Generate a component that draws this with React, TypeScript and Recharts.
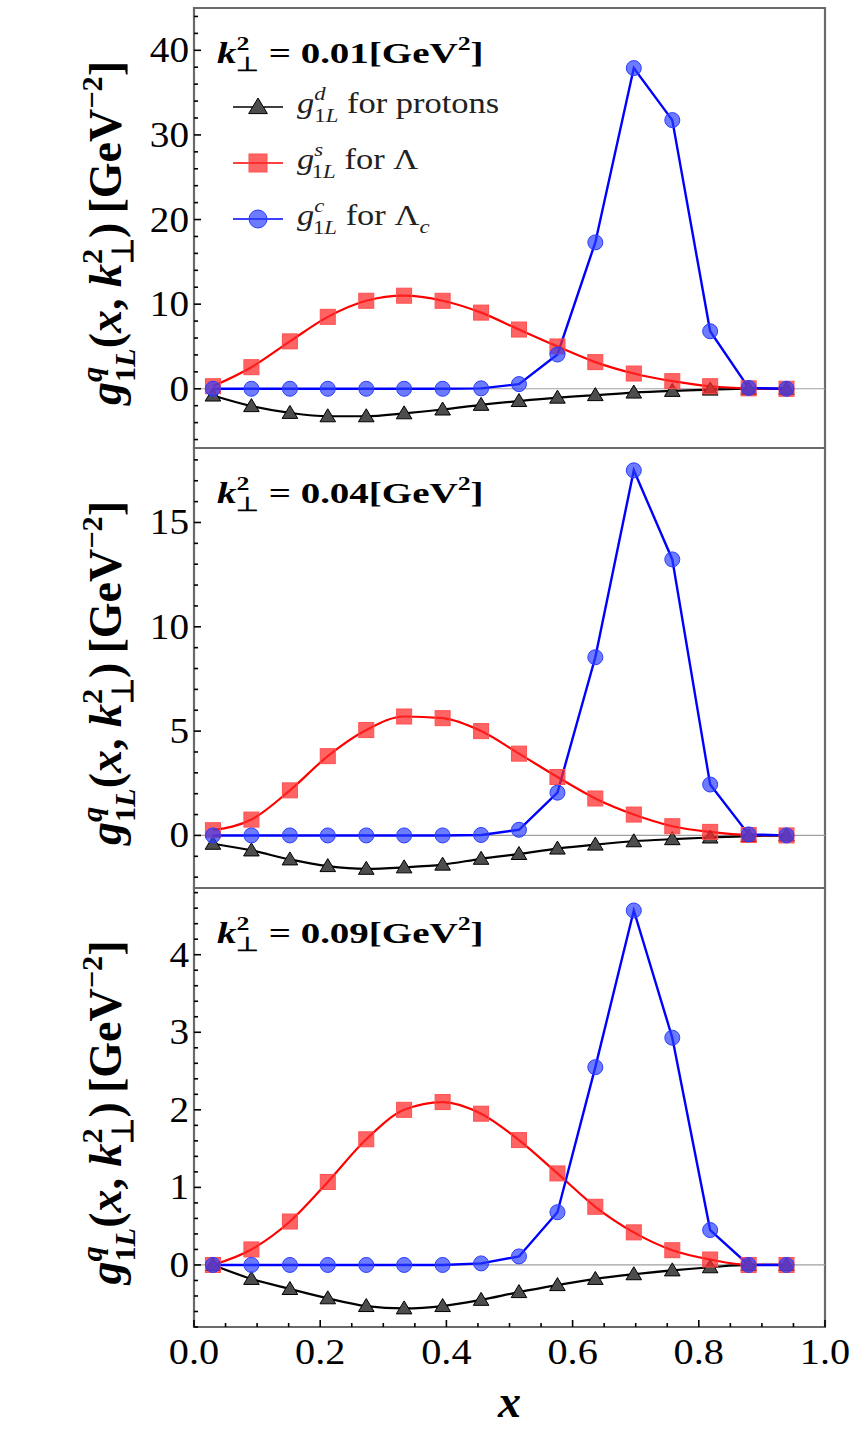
import React from 'react';
import { LineChart, Line, XAxis, YAxis, ReferenceLine, ReferenceArea, Legend } from 'recharts';

const SERIF = "'Liberation Serif', 'Times New Roman', Times, serif";

// x positions of the sampled points
const xValues = [0.030, 0.091, 0.152, 0.212, 0.273, 0.333, 0.394, 0.455, 0.515, 0.576, 0.636, 0.697, 0.758, 0.818, 0.879, 0.939];

// k_perp^2 = 0.01
const proton1 = [-0.8, -2.05, -2.85, -3.25, -3.25, -2.9, -2.45, -1.9, -1.45, -1.05, -0.75, -0.45, -0.25, -0.1, 0, 0];
const lambda1 = [0.3, 2.55, 5.6, 8.5, 10.4, 11.0, 10.4, 9.0, 7.0, 5.0, 3.15, 1.8, 0.9, 0.3, 0.05, 0];
const lambdac1 = [0, 0, 0, 0, 0, 0, 0, 0.05, 0.55, 4.05, 17.3, 37.9, 31.75, 6.8, 0.1, 0];

// k_perp^2 = 0.04
const proton2 = [-0.4, -0.72, -1.15, -1.47, -1.6, -1.53, -1.4, -1.12, -0.89, -0.63, -0.44, -0.28, -0.18, -0.1, -0.03, 0];
const lambda2 = [0.25, 0.76, 2.16, 3.8, 5.05, 5.7, 5.62, 5.0, 3.92, 2.8, 1.77, 1.0, 0.44, 0.17, 0.02, 0];
const lambdac2 = [0, 0, 0, 0, 0, 0, 0, 0.02, 0.27, 2.05, 8.54, 17.5, 13.23, 2.44, 0.05, 0];

// k_perp^2 = 0.09
const proton3 = [0, -0.18, -0.31, -0.43, -0.53, -0.56, -0.53, -0.45, -0.35, -0.26, -0.18, -0.12, -0.07, -0.03, 0, 0];
const lambda3 = [0.0, 0.2, 0.56, 1.07, 1.62, 2.0, 2.1, 1.95, 1.61, 1.18, 0.75, 0.42, 0.19, 0.07, 0.0, 0];
const lambdac3 = [0, 0, 0, 0, 0, 0, 0, 0.02, 0.11, 0.68, 2.55, 4.57, 2.93, 0.45, 0.0, 0];

const k2Labels = ['0.01', '0.04', '0.09'];

const yDomain1 = [-7, 45];
const yDomain2 = [-2.52, 18.57];
const yDomain3 = [-0.8, 4.86];

const yTicks1 = [-6, -4, -2, 0, 2, 4, 6, 8, 10, 12, 14, 16, 18, 20, 22, 24, 26, 28, 30, 32, 34, 36, 38, 40, 42, 44];
const yMajor1 = [0, 10, 20, 30, 40];
const yTicks2 = [-2, -1, 0, 1, 2, 3, 4, 5, 6, 7, 8, 9, 10, 11, 12, 13, 14, 15, 16, 17, 18];
const yMajor2 = [0, 5, 10, 15];
const yTicks3 = [-0.8, -0.6, -0.4, -0.2, 0, 0.2, 0.4, 0.6, 0.8, 1, 1.2, 1.4, 1.6, 1.8, 2, 2.2, 2.4, 2.6, 2.8, 3, 3.2, 3.4, 3.6, 3.8, 4, 4.2, 4.4, 4.6, 4.8];
const yMajor3 = [0, 1, 2, 3, 4];

const xTicks = [0, 0.05, 0.1, 0.15, 0.2, 0.25, 0.3, 0.35, 0.4, 0.45, 0.5, 0.55, 0.6, 0.65, 0.7, 0.75, 0.8, 0.85, 0.9, 0.95, 1];
const xMajor = [0, 0.2, 0.4, 0.6, 0.8, 1];
const xTickLabels = ['0.0', '0.2', '0.4', '0.6', '0.8', '1.0'];

const legendOrder = ['proton', 'lambda', 'lambdac'];

const BLACK = '#000000';
const RED = '#ff0000';
const BLUE = '#0000ff';

function makeData(p: number[], l: number[], c: number[]) {
  return xValues.map((x, i) => ({ x, proton: p[i], lambda: l[i], lambdac: c[i] }));
}

const triangleShape = (cx: number, cy: number, s = 1) =>
  `M${cx},${cy - 7.5 * s} L${cx + 7.8 * s},${cy + 5.5 * s} L${cx - 7.8 * s},${cy + 5.5 * s} Z`;

const renderTriangle = (props: any) => {
  const { cx, cy, index } = props;
  if (cx == null || cy == null) return <g key={`t${index}`} />;
  return <path key={`t${index}`} d={triangleShape(cx, cy)} fill="#4d4d4d" stroke="#000" strokeWidth={1} />;
};
const renderSquare = (props: any) => {
  const { cx, cy, index } = props;
  if (cx == null || cy == null) return <g key={`s${index}`} />;
  return <rect key={`s${index}`} x={cx - 7.5} y={cy - 7.5} width={15} height={15} fill="rgba(255,40,40,0.72)" stroke="#ff5050" strokeWidth={1} />;
};
const renderCircle = (props: any) => {
  const { cx, cy, index } = props;
  if (cx == null || cy == null) return <g key={`c${index}`} />;
  return <circle key={`c${index}`} cx={cx} cy={cy} r={7.5} fill="rgba(40,60,255,0.68)" stroke="#2a3cff" strokeWidth={1} />;
};

const makeYTick = (majors: number[]) => (props: any) => {
  const { x, y, payload, index } = props;
  const v = payload.value;
  const major = majors.includes(v);
  return (
    <g key={`yt${index}`}>
      <line x1={x} x2={x + (major ? 7 : 4)} y1={y} y2={y} stroke="#000" strokeWidth={1.6} />
      {major && (
        <text transform={`translate(${x - 5},${y + 12}) scale(1.12,1)`} textAnchor="end" fontFamily={SERIF} fontSize={35} fill="#000">
          {String(v)}
        </text>
      )}
    </g>
  );
};

const makeXTick = (showLabels: boolean) => (props: any) => {
  const { x, y, payload, index } = props;
  const v = payload.value;
  const mi = xMajor.indexOf(v);
  return (
    <g key={`xt${index}`}>
      <line x1={x} x2={x} y1={y} y2={y - (mi >= 0 ? 7 : 4)} stroke="#000" strokeWidth={1.6} />
      {showLabels && mi >= 0 && (
        <text transform={`translate(${x},${y + 37}) scale(1.12,1)`} textAnchor="middle" fontFamily={SERIF} fontSize={36} fill="#000">
          {xTickLabels[mi]}
        </text>
      )}
    </g>
  );
};

const YLabel = (props: any) => {
  const vb = props.viewBox || {};
  const cy = (vb.y || 0) + (vb.height || 0) / 2 + 5;
  const F = 46;
  const s = 0.66 * F;
  return (
    <text transform={`translate(121,${cy}) rotate(-90)`} textAnchor="middle" fontFamily={SERIF} fontSize={F} fontWeight="bold" fill="#000">
      <tspan fontStyle="italic">g</tspan>
      <tspan fontStyle="italic" fontSize={s} dy={-0.42 * F}>q</tspan>
      <tspan fontSize={s} dx={-0.5 * s} dy={0.72 * F}>1</tspan>
      <tspan fontSize={s} fontStyle="italic">L</tspan>
      <tspan dy={-0.3 * F}>(</tspan>
      <tspan fontStyle="italic">x</tspan>
      <tspan>, </tspan>
      <tspan fontStyle="italic">k</tspan>
      <tspan fontSize={s} dy={-0.42 * F}>2</tspan>
      <tspan fontSize={s} dx={-0.5 * s} dy={0.68 * F}>⊥</tspan>
      <tspan dy={-0.26 * F}>){'\u2009'}[GeV</tspan>
      <tspan fontSize={s} dy={-0.42 * F}>−2</tspan>
      <tspan dy={0.42 * F}>]</tspan>
    </text>
  );
};

const XLabel = (props: any) => {
  const vb = props.viewBox || {};
  const cx = (vb.x || 0) + (vb.width || 0) / 2;
  return (
    <text x={cx} y={(vb.y || 0) + 90} textAnchor="middle" fontFamily={SERIF} fontSize={46} fontWeight="bold" fontStyle="italic" fill="#000">
      x
    </text>
  );
};

const legendLabel: Record<string, { sup: string; name: string; sub?: string }> = {
  proton: { sup: 'd', name: ' for protons' },
  lambda: { sup: 's', name: ' for Λ' },
  lambdac: { sup: 'c', name: ' for Λ', sub: 'c' },
};

const legendMarker = (key: string, cx: number, cy: number) => {
  if (key === 'proton') return <path d={triangleShape(cx, cy, 1.2)} fill="#4d4d4d" stroke="#000" strokeWidth={1} />;
  if (key === 'lambda') return <rect x={cx - 9} y={cy - 9} width={18} height={18} fill="rgba(255,40,40,0.72)" stroke="#ff5050" strokeWidth={1} />;
  return <circle cx={cx} cy={cy} r={9} fill="rgba(40,60,255,0.68)" stroke="#2a3cff" strokeWidth={1} />;
};

const makeOverlay = (k2: string, withLegend: boolean) => (props: any) => {
  const payload: any[] = (props && props.payload) || [];
  const entries = withLegend
    ? [...payload].sort((a, b) => legendOrder.indexOf(a.dataKey) - legendOrder.indexOf(b.dataKey))
    : [];
  const F = 30;
  const s = 0.66 * F;
  return (
    <svg width={854} height={250} style={{ display: 'block', overflow: 'visible' }}>
      <text transform={`translate(217,63) scale(1.3,1)`} fontFamily={SERIF} fontSize={F} fontWeight="bold" fill="#000">
        <tspan fontStyle="italic">k</tspan>
        <tspan fontSize={s} dy={-0.42 * F}>2</tspan>
        <tspan fontSize={s} dx={-0.5 * s} dy={0.68 * F}>⊥</tspan>
        <tspan dy={-0.26 * F}> = {k2}[GeV</tspan>
        <tspan fontSize={s} dy={-0.42 * F}>2</tspan>
        <tspan dy={0.42 * F}>]</tspan>
      </text>
      {entries.map((e: any, i: number) => {
        const key = String(e.dataKey);
        const info = legendLabel[key];
        const ly = 107 + i * 56;
        const FL = 30;
        const sl = 0.66 * FL;
        return (
          <g key={key}>
            <line x1={233} x2={283} y1={ly} y2={ly} stroke={e.color} strokeWidth={1.6} />
            {legendMarker(key, 258, ly)}
            <text transform={`translate(297,${ly + 6}) scale(1.15,1)`} fontFamily={SERIF} fontSize={FL} fill="#222">
              <tspan fontStyle="italic">g</tspan>
              <tspan fontStyle="italic" fontSize={sl} dy={-0.42 * FL}>{info.sup}</tspan>
              <tspan fontSize={sl} dx={-0.5 * sl} dy={0.72 * FL}>1</tspan>
              <tspan fontSize={sl} fontStyle="italic">L</tspan>
              <tspan dy={-0.3 * FL}>{info.name}</tspan>
              {info.sub && (
                <tspan fontSize={sl} fontStyle="italic" dy={0.25 * FL}>{info.sub}</tspan>
              )}
            </text>
          </g>
        );
      })}
    </svg>
  );
};

type PanelProps = {
  data: any[];
  domain: number[];
  yTicks: number[];
  yMajor: number[];
  k2: string;
  withLegend: boolean;
  bottom: boolean;
  height: number;
};

function Panel({ data, domain, yTicks, yMajor, k2, withLegend, bottom, height }: PanelProps) {
  return (
    <LineChart
      width={854}
      height={height}
      data={data}
      margin={{ top: 8, right: 29, bottom: bottom ? 0 : 8, left: 0 }}
    >
      <XAxis
        dataKey="x"
        type="number"
        domain={[0, 1]}
        ticks={xTicks}
        interval={0}
        allowDataOverflow
        axisLine={false}
        tickLine={false}
        tickSize={0}
        tickMargin={0}
        height={bottom ? 104 : 0}
        tick={makeXTick(bottom)}
        label={bottom ? (p: any) => <XLabel {...p} /> : undefined}
      />
      <YAxis
        type="number"
        domain={domain}
        ticks={yTicks}
        interval={0}
        allowDataOverflow
        axisLine={false}
        tickLine={false}
        tickSize={0}
        tickMargin={0}
        width={194}
        tick={makeYTick(yMajor)}
        label={(p: any) => <YLabel {...p} />}
      />
      <ReferenceLine y={0} stroke="#a0a0a0" strokeWidth={1.2} ifOverflow="visible" />
      <Line dataKey="proton" name="proton" type="monotone" stroke={BLACK} strokeWidth={2.2} dot={renderTriangle} activeDot={false} isAnimationActive={false} />
      <Line dataKey="lambda" name="lambda" type="monotone" stroke={RED} strokeWidth={2.2} dot={renderSquare} activeDot={false} isAnimationActive={false} />
      <Line dataKey="lambdac" name="lambdac" type="linear" stroke={BLUE} strokeWidth={2.4} dot={renderCircle} activeDot={false} isAnimationActive={false} />
      <ReferenceArea x1={0} x2={1} y1={domain[0]} y2={domain[1]} fill="none" stroke="#6a6a6a" strokeWidth={2.2} ifOverflow="visible" />
      <Legend
        layout="vertical"
        align="center"
        verticalAlign="middle"
        content={makeOverlay(k2, withLegend)}
        wrapperStyle={{ left: 0, top: 0, width: 854, height: 250, pointerEvents: 'none' }}
      />
    </LineChart>
  );
}

export default function App() {
  const data1 = makeData(proton1, lambda1, lambdac1);
  const data2 = makeData(proton2, lambda2, lambdac2);
  const data3 = makeData(proton3, lambda3, lambdac3);
  return (
    <div style={{ position: 'absolute', left: 0, top: 0, width: 854, height: 1431, background: '#fff' }}>
      <div style={{ position: 'absolute', left: 0, top: 0 }}>
        <Panel data={data1} domain={yDomain1} yTicks={yTicks1} yMajor={yMajor1} k2={k2Labels[0]} withLegend bottom={false} height={456} />
      </div>
      <div style={{ position: 'absolute', left: 0, top: 440 }}>
        <Panel data={data2} domain={yDomain2} yTicks={yTicks2} yMajor={yMajor2} k2={k2Labels[1]} withLegend={false} bottom={false} height={456} />
      </div>
      <div style={{ position: 'absolute', left: 0, top: 880 }}>
        <Panel data={data3} domain={yDomain3} yTicks={yTicks3} yMajor={yMajor3} k2={k2Labels[2]} withLegend={false} bottom height={551} />
      </div>
    </div>
  );
}
